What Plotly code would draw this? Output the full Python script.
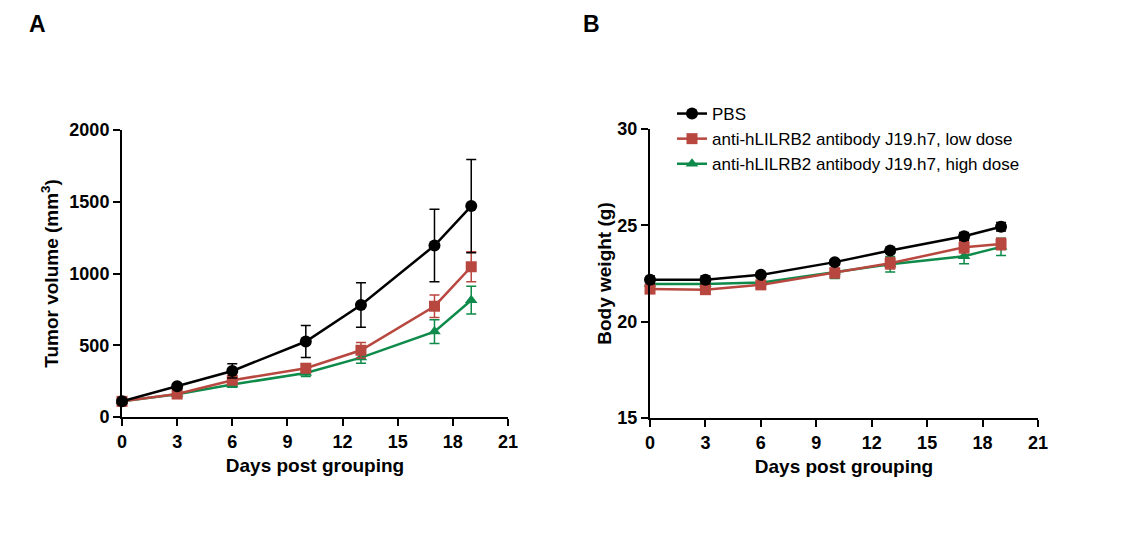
import plotly.graph_objects as go

days = [0, 3, 6, 10, 13, 17, 19]

# Panel A: tumor volume (mm3)
tv_pbs = [109, 214, 321, 526, 781, 1195, 1470]
tv_pbs_err = [12, 15, 50, 112, 155, 253, 325]
tv_low = [109, 160, 256, 340, 465, 772, 1047]
tv_low_err = [10, 12, 20, 30, 54, 79, 105]
tv_high = [109, 158, 226, 307, 414, 595, 814]
tv_high_err = [10, 12, 18, 25, 40, 83, 97]

# Panel B: body weight (g)
bw_pbs = [22.17, 22.17, 22.43, 23.09, 23.69, 24.43, 24.93]
bw_pbs_err = [0.2, 0.2, 0.12, 0.12, 0.12, 0.2, 0.22]
bw_low = [21.69, 21.66, 21.91, 22.53, 23.03, 23.86, 24.03]
bw_low_err = [0.15, 0.15, 0.2, 0.25, 0.3, 0.3, 0.3]
bw_high = [21.95, 21.95, 22.03, 22.59, 22.98, 23.40, 23.88]
bw_high_err = [0.15, 0.15, 0.25, 0.35, 0.4, 0.4, 0.45]

names = ["PBS", "anti-hLILRB2 antibody J19.h7, low dose", "anti-hLILRB2 antibody J19.h7, high dose"]
colors = ["#000000", "#B8473F", "#0E8A4A"]
symbols = ["circle", "square", "triangle-up"]
msizes = [12, 11, 11]

x_ticks = [0, 3, 6, 9, 12, 15, 18, 21]

W, H = 1121, 541
font = "Arial, Liberation Sans, sans-serif"

fig = go.Figure()

series_a = [(tv_pbs, tv_pbs_err), (tv_low, tv_low_err), (tv_high, tv_high_err)]
series_b = [(bw_pbs, bw_pbs_err), (bw_low, bw_low_err), (bw_high, bw_high_err)]

for i in [2, 1, 0]:
    y, e = series_a[i]
    fig.add_trace(go.Scatter(
        x=days, y=y, mode="lines+markers", name=names[i], showlegend=False,
        line=dict(color=colors[i], width=2.5),
        marker=dict(symbol=symbols[i], size=msizes[i], color=colors[i]),
        error_y=dict(type="data", array=e, visible=True, color=colors[i], thickness=1.5, width=5),
        xaxis="x", yaxis="y", cliponaxis=False))

for i in [2, 1, 0]:
    y, e = series_b[i]
    fig.add_trace(go.Scatter(
        x=days, y=y, mode="lines+markers", name=names[i], showlegend=True,
        legendrank=i,
        line=dict(color=colors[i], width=2.5),
        marker=dict(symbol=symbols[i], size=msizes[i], color=colors[i]),
        error_y=dict(type="data", array=e, visible=True, color=colors[i], thickness=1.5, width=5),
        xaxis="x2", yaxis="y2", cliponaxis=False))

axis_common = dict(
    showline=True, linecolor="black", linewidth=2,
    ticks="outside", ticklen=7, tickwidth=2, tickcolor="black",
    showgrid=False, zeroline=False, automargin=False,
    tickfont=dict(family=font, size=18, color="black", weight="bold"),
)
title_font = dict(family=font, size=19, color="black", weight="bold")

fig.update_layout(
    width=W, height=H,
    margin=dict(l=0, r=0, t=0, b=0),
    plot_bgcolor="white", paper_bgcolor="white",
    font=dict(family=font, color="black"),
    xaxis=dict(domain=[122 / W, 508 / W], range=[0, 21], tickvals=x_ticks,
               anchor="y", title=dict(text="Days post grouping", font=title_font, standoff=8),
               **axis_common),
    yaxis=dict(domain=[1 - 417 / H, 1 - 130 / H], range=[0, 2000], tickvals=[0, 500, 1000, 1500, 2000],
               anchor="x", title=dict(text="Tumor volume (mm<sup>3</sup>)", font=title_font, standoff=6),
               **axis_common),
    xaxis2=dict(domain=[650 / W, 1038 / W], range=[0, 21], tickvals=x_ticks,
                anchor="y2", title=dict(text="Days post grouping", font=title_font, standoff=8),
                **axis_common),
    yaxis2=dict(domain=[1 - 418 / H, 1 - 129 / H], range=[15, 30], tickvals=[15, 20, 25, 30],
                anchor="x2", title=dict(text="Body weight (g)", font=title_font, standoff=1),
                **axis_common),
    legend=dict(x=672 / W, y=1 - 96 / H, xanchor="left", yanchor="top",
                font=dict(family=font, size=17, color="black"),
                bgcolor="rgba(0,0,0,0)", tracegroupgap=0, itemwidth=30,
                traceorder="normal"),
    annotations=[
        dict(text="<b>A</b>", x=27 / W, y=1 - 9 / H, xref="paper", yref="paper",
             xanchor="left", yanchor="top", showarrow=False,
             font=dict(family=font, size=23, color="black")),
        dict(text="<b>B</b>", x=581 / W, y=1 - 9 / H, xref="paper", yref="paper",
             xanchor="left", yanchor="top", showarrow=False,
             font=dict(family=font, size=23, color="black")),
    ],
)

fig.write_html("out.html", config={"displayModeBar": False},
               post_script="document.body.style.margin='0';document.body.style.padding='0';")
